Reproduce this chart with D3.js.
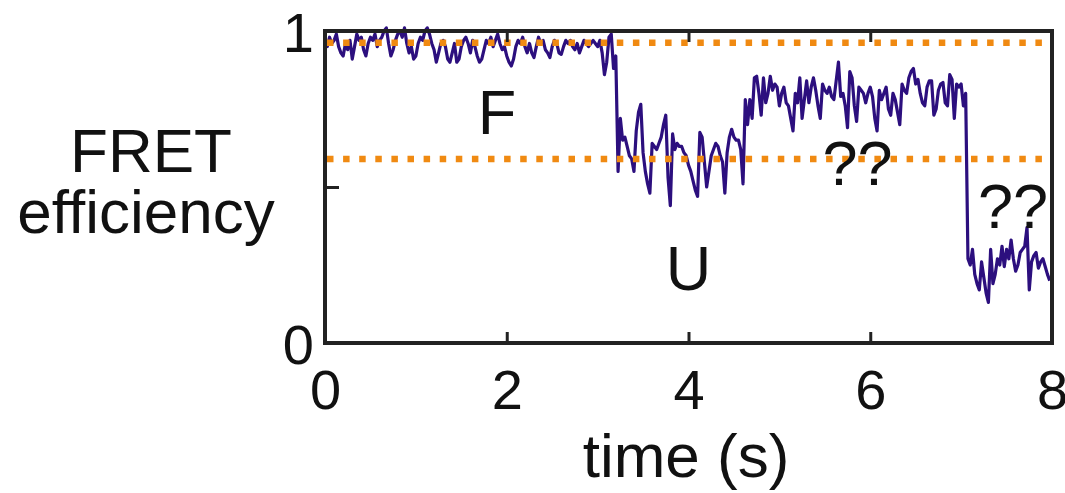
<!DOCTYPE html>
<html>
<head>
<meta charset="utf-8">
<script src="https://cdn.jsdelivr.net/npm/d3@7"></script>
<style>
  html, body { margin: 0; padding: 0; background: #fff; }
  svg { display: block; }
  text { font-family: "Liberation Sans", Arial, Helvetica, sans-serif; fill: #111; }
</style>
</head>
<body>
<svg id="chart" width="1065" height="493"></svg>
<script>
// Single-molecule FRET efficiency trace, sampled every 25 ms
const dt = 0.025;
const fretTrace = [
  // folded state (F)
  0.97, 0.95, 0.98, 0.96, 0.97, 0.99, 0.95, 0.93, 0.92, 0.96,
  0.94, 0.97, 0.91, 0.95, 0.99, 0.97, 0.98, 0.94, 0.92, 0.96,
  0.98, 0.97, 0.99, 0.95, 0.97, 0.98, 1.00, 1.01, 0.96, 0.92,
  0.94, 0.97, 0.99, 1.00, 0.98, 1.01, 0.96, 0.93, 0.95, 0.91,
  0.92, 0.96, 0.98, 0.97, 1.00, 1.01, 0.99, 0.96, 0.94, 0.90,
  0.93, 0.96, 0.97, 0.95, 0.91, 0.90, 0.93, 0.96, 0.90, 0.91,
  0.95, 0.97, 0.98, 0.96, 0.93, 0.97, 0.95, 0.92, 0.90, 0.91,
  0.94, 0.97, 0.96, 0.98, 0.95, 0.97, 0.99, 0.96, 0.94, 0.95,
  0.92, 0.90, 0.888, 0.91, 0.95, 0.97, 0.96, 0.98, 0.95, 0.93,
  0.96, 0.93, 0.915, 0.95, 0.98, 0.96, 0.97, 0.94, 0.93, 0.915,
  0.95, 0.97, 0.96, 0.93, 0.925, 0.95, 0.97, 0.96, 0.97, 0.95,
  0.94, 0.96, 0.93, 0.95, 0.97, 0.96, 0.95, 0.96, 0.97, 0.96,
  0.95, 0.97, 0.93, 0.86, 0.90, 0.98, 0.99, 0.88, 0.92, 0.55,
  // unfolded state (U)
  0.72, 0.65, 0.66, 0.63, 0.60, 0.59, 0.55, 0.68, 0.74, 0.765,
  0.61, 0.55, 0.51, 0.48, 0.64, 0.63, 0.62, 0.64, 0.66, 0.70,
  0.73, 0.53, 0.44, 0.67, 0.62, 0.64, 0.63, 0.63, 0.61, 0.60,
  0.57, 0.55, 0.52, 0.49, 0.47, 0.675, 0.66, 0.58, 0.50, 0.55,
  0.60, 0.62, 0.64, 0.63, 0.60, 0.58, 0.48, 0.61, 0.66, 0.685,
  0.66, 0.65, 0.65, 0.62, 0.51, 0.78, 0.70, 0.78, 0.72, 0.85,
  // intermediate level
  0.855, 0.80, 0.73, 0.85, 0.77, 0.80, 0.855, 0.81, 0.83, 0.82,
  0.76, 0.80, 0.82, 0.77, 0.76, 0.72, 0.68, 0.80, 0.77, 0.85,
  0.72, 0.78, 0.84, 0.77, 0.82, 0.85, 0.81, 0.76, 0.72, 0.83,
  0.81, 0.80, 0.82, 0.79, 0.78, 0.84, 0.90, 0.79, 0.80, 0.76,
  0.69, 0.87, 0.85, 0.76, 0.71, 0.82, 0.81, 0.80, 0.77, 0.80,
  0.82, 0.79, 0.72, 0.68, 0.81, 0.78, 0.80, 0.82, 0.75, 0.73,
  0.80, 0.78, 0.74, 0.70, 0.83, 0.81, 0.80, 0.85, 0.87, 0.88,
  0.83, 0.845, 0.80, 0.77, 0.76, 0.82, 0.84, 0.84, 0.73, 0.75,
  0.81, 0.83, 0.835, 0.77, 0.76, 0.86, 0.845, 0.72, 0.83, 0.82,
  0.83, 0.76, 0.80,
  // low-FRET level
  0.27, 0.25, 0.30, 0.22, 0.19, 0.17, 0.26, 0.21,
  0.16, 0.13, 0.30, 0.19, 0.22, 0.27, 0.25, 0.31, 0.245, 0.30,
  0.27, 0.33, 0.27, 0.23, 0.25, 0.29, 0.30, 0.31, 0.37, 0.17,
  0.26, 0.28, 0.29, 0.24, 0.26, 0.27, 0.245, 0.22, 0.20
];

// Reference FRET levels (dotted guides)
const stateLevels = [0.962, 0.59];

const xTicks = [0, 2, 4, 6, 8];
const yTicks = [0, 0.5, 1];
const yTickLabels = ["0", "", "1"];

const stateLabels = [
  { text: "F",  t: 1.68, e: 0.67, anchor: "start" },
  { text: "U",  t: 4.0,  e: 0.17, anchor: "middle" },
  { text: "??", t: 5.86, e: 0.508, anchor: "middle" },
  { text: "??", t: 7.57, e: 0.37, anchor: "middle" }
];

const svg = d3.select("#chart");
const frame = { left: 325, right: 1052, top: 31, bottom: 343 };

const x = d3.scaleLinear().domain([0, 8]).range([frame.left, frame.right]);
const y = d3.scaleLinear().domain([0, 1]).range([frame.bottom, frame.top]);

const points = fretTrace.map((v, i) => [i * dt, v]);

// Clip the trace to the frame
svg.append("defs").append("clipPath").attr("id", "frameClip")
  .append("rect").attr("x", frame.left).attr("y", frame.top - 6)
  .attr("width", frame.right - frame.left).attr("height", frame.bottom - frame.top + 6);

const plot = svg.append("g");

plot.append("path")
  .datum(points)
  .attr("clip-path", "url(#frameClip)")
  .attr("fill", "none")
  .attr("stroke", "#2c0f7e")
  .attr("stroke-width", 3.2)
  .attr("stroke-linejoin", "round")
  .attr("d", d3.line().x(d => x(d[0])).y(d => y(d[1])));

// Dotted state guides drawn over the trace
plot.selectAll("line.level")
  .data(stateLevels)
  .join("line")
  .attr("class", "level")
  .attr("x1", x(0) + 2).attr("x2", x(8) - 2)
  .attr("y1", d => y(d)).attr("y2", d => y(d))
  .attr("stroke", "#f08a12")
  .attr("stroke-width", 6.5)
  .attr("stroke-dasharray", "6.5 9.6");

// Axes (ticks point inward)
const axisColor = "#222";
const xAxisBottom = d3.axisBottom(x).tickValues(xTicks).tickSizeInner(-11).tickSizeOuter(0).tickFormat(d3.format("d"));
const gxb = svg.append("g").attr("transform", `translate(0,${frame.bottom})`).call(xAxisBottom);
gxb.select(".domain").remove();
gxb.selectAll(".tick line").attr("stroke", axisColor).attr("stroke-width", 3);
gxb.selectAll(".tick text").attr("y", 66).attr("dy", null)
  .style("font-size", "56px").attr("fill", "#111");

const xAxisTop = d3.axisTop(x).tickValues(xTicks.slice(1, -1)).tickSizeInner(-11).tickSizeOuter(0).tickFormat("");
const gxt = svg.append("g").attr("transform", `translate(0,${frame.top})`).call(xAxisTop);
gxt.select(".domain").remove();
gxt.selectAll(".tick line").attr("stroke", axisColor).attr("stroke-width", 3);

const yAxis = d3.axisLeft(y).tickValues(yTicks).tickSizeInner(-14).tickSizeOuter(0)
  .tickFormat((d, i) => yTickLabels[i]);
const gy = svg.append("g").attr("transform", `translate(${frame.left},0)`).call(yAxis);
gy.select(".domain").remove();
gy.selectAll(".tick line").attr("stroke", axisColor).attr("stroke-width", 3);
gy.selectAll(".tick text").attr("x", -11).attr("dy", "0.36em")
  .style("font-size", "56px").attr("fill", "#111");

// Frame
svg.append("rect")
  .attr("x", frame.left).attr("y", frame.top)
  .attr("width", frame.right - frame.left).attr("height", frame.bottom - frame.top)
  .attr("fill", "none").attr("stroke", axisColor).attr("stroke-width", 4);

// Axis titles
svg.append("text").attr("x", 686).attr("y", 477).attr("text-anchor", "middle")
  .style("font-size", "62px").text("time (s)");
svg.append("text").attr("x", 151).attr("y", 172).attr("text-anchor", "middle")
  .style("font-size", "62px").text("FRET");
svg.append("text").attr("x", 146).attr("y", 233).attr("text-anchor", "middle")
  .style("font-size", "62px").text("efficiency");

// State annotations
svg.selectAll("text.state")
  .data(stateLabels)
  .join("text")
  .attr("class", "state")
  .attr("x", d => x(d.t)).attr("y", d => y(d.e))
  .attr("text-anchor", d => d.anchor)
  .style("font-size", "63px")
  .text(d => d.text);
</script>
</body>
</html>
